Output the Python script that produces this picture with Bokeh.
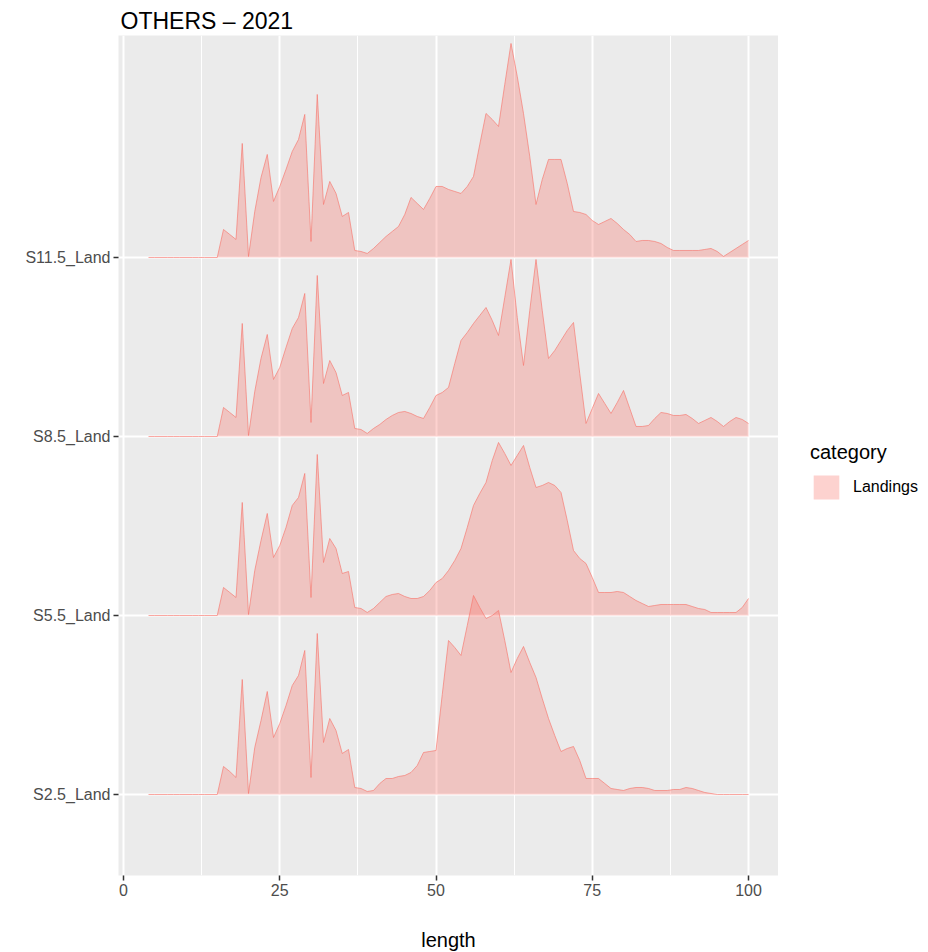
from bokeh.plotting import figure
from bokeh.layouts import row
from bokeh.models import FixedTicker, Legend, LegendItem, Range1d
from bokeh.embed import file_html
from bokeh.resources import INLINE

# ---------------- data ----------------
title_text = "OTHERS \u2013  2021"
categories = ["S2.5_Land", "S5.5_Land", "S8.5_Land", "S11.5_Land"]
series_name = "Landings"
legend_title = "category"

lengths = [4, 5, 6, 7, 8, 9, 10, 11, 12, 13, 14, 15, 16, 17, 18, 19, 20,
           21, 22, 23, 24, 25, 26, 27, 28, 29, 30, 31, 32, 33, 34, 35, 36,
           37, 38, 39, 40, 41, 42, 43, 44, 45, 46, 47, 48, 49, 50, 51, 52,
           53, 54, 55, 56, 57, 58, 59, 60, 61, 62, 63, 64, 65, 66, 67, 68,
           69, 70, 71, 72, 73, 74, 75, 76, 77, 78, 79, 80, 81, 82, 83, 84,
           85, 86, 87, 88, 89, 90, 91, 92, 93, 94, 95, 96, 97, 98, 99, 100]

# relative heights (1 category step = 179 units)
s2_5 = [0, 0, 0, 0, 0, 0, 0, 0, 0, 0, 0, 0, 28, 23, 17, 115, 1,
        47, 74, 103, 57, 71, 89, 109, 119, 144, 17, 161, 52, 76, 64, 41, 45,
        7, 6, 3, 4, 11, 16, 16, 18, 19, 22, 29, 42, 43, 44, 100, 154,
        147, 139, 169, 199, 187, 176, 179, 184, 154, 122, 136, 148, 132, 117, 96, 76,
        59, 43, 46, 48, 34, 16, 16, 16, 11, 6, 5, 4, 6, 7, 7, 6,
        4, 4, 4, 5, 5, 7, 6, 4, 2, 1, 0, 0, 0, 0, 0, 0]
s5_5 = [0, 0, 0, 0, 0, 0, 0, 0, 0, 0, 0, 0, 28, 23, 18, 113, 1,
        45, 75, 102, 58, 70, 88, 110, 118, 142, 18, 161, 53, 77, 67, 42, 44,
        8, 7, 3, 7, 13, 19, 21, 22, 19, 17, 17, 19, 25, 33, 37, 45,
        55, 67, 88, 110, 122, 133, 155, 173, 162, 150, 160, 170, 148, 128, 130, 133,
        130, 123, 95, 65, 57, 52, 38, 23, 23, 23, 24, 23, 19, 15, 12, 9,
        10, 11, 11, 11, 11, 11, 9, 7, 6, 3, 3, 3, 3, 3, 8, 17]
s8_5 = [0, 0, 0, 0, 0, 0, 0, 0, 0, 0, 0, 0, 29, 24, 19, 113, 1,
        45, 78, 102, 57, 69, 89, 108, 119, 143, 14, 161, 53, 76, 64, 41, 44,
        8, 7, 3, 8, 12, 17, 21, 24, 25, 23, 20, 18, 29, 41, 44, 49,
        73, 96, 104, 113, 121, 129, 116, 101, 139, 177, 119, 71, 126, 177, 126, 78,
        86, 96, 106, 114, 63, 13, 28, 43, 33, 23, 34, 46, 28, 10, 10, 11,
        18, 24, 23, 21, 21, 22, 18, 13, 16, 19, 15, 10, 15, 19, 17, 13]
s11_5 = [0, 0, 0, 0, 0, 0, 0, 0, 0, 0, 0, 0, 28, 23, 18, 114, 1,
         46, 80, 103, 56, 71, 88, 106, 118, 143, 16, 163, 53, 76, 64, 41, 45,
         7, 6, 4, 9, 15, 21, 26, 31, 43, 60, 54, 48, 59, 71, 71, 68,
         66, 64, 71, 81, 113, 144, 138, 131, 173, 214, 181, 144, 101, 53, 78, 98,
         98, 98, 74, 46, 45, 43, 37, 33, 36, 39, 34, 28, 23, 16, 17, 17,
         16, 14, 10, 7, 7, 7, 7, 7, 8, 9, 6, 1, 5, 9, 13, 17]

heights = {"S2.5_Land": s2_5, "S5.5_Land": s5_5, "S8.5_Land": s8_5, "S11.5_Land": s11_5}
height_per_step = 179.0

x_ticks = [0, 25, 50, 75, 100]
x_minor = [12.5, 37.5, 62.5, 87.5]

# ---------------- styles ----------------
FILL = "#F8766D"
FILL_ALPHA = 0.33
FONT = "Liberation Sans"

p = figure(frame_width=660, frame_height=840, output_backend="svg", toolbar_location=None,
           x_range=Range1d(-0.8, 104.8), y_range=Range1d(0.5475, 5.24),
           min_border_left=118, min_border_right=0, min_border_top=35,
           min_border_bottom=77)

p.title.text = title_text
p.title.text_font = FONT
p.title.text_font_size = "23px"
p.title.text_font_style = "normal"
p.title.text_color = "#000000"
p.title.offset = 2
p.title.standoff = 4

p.background_fill_color = "#EBEBEB"
p.border_fill_color = "#FFFFFF"
p.outline_line_color = None

# grids
p.xgrid.ticker = FixedTicker(ticks=x_ticks, minor_ticks=x_minor)
p.xgrid.grid_line_color = "#FFFFFF"
p.xgrid.grid_line_width = 2
p.xgrid.minor_grid_line_color = "#FFFFFF"
p.xgrid.minor_grid_line_width = 1
p.ygrid.ticker = FixedTicker(ticks=[1, 2, 3, 4])
p.ygrid.grid_line_color = "#FFFFFF"
p.ygrid.grid_line_width = 2

# axes
p.xaxis.ticker = FixedTicker(ticks=x_ticks, minor_ticks=x_minor)
p.yaxis.ticker = FixedTicker(ticks=[1, 2, 3, 4])
p.yaxis.major_label_overrides = {i + 1: c for i, c in enumerate(categories)}
for ax in (p.xaxis[0], p.yaxis[0]):
    ax.axis_line_color = None
    ax.minor_tick_line_color = None
    ax.major_tick_line_color = "#333333"
    ax.major_tick_line_width = 1.5
    ax.major_tick_out = 5
    ax.major_tick_in = 0
    ax.major_label_text_font = FONT
    ax.major_label_text_font_size = "16px"
    ax.major_label_text_color = "#4D4D4D"
    ax.major_label_standoff = 3
p.xaxis.axis_label = "length"
p.xaxis.axis_label_text_font = FONT
p.xaxis.axis_label_text_font_size = "20px"
p.xaxis.axis_label_text_font_style = "normal"
p.xaxis.axis_label_text_color = "#000000"
p.xaxis.axis_label_standoff = 30

# ridges: top row first so lower ridges overlay
for idx in range(len(categories) - 1, -1, -1):
    cat = categories[idx]
    base = idx + 1
    top = [base + h / height_per_step for h in heights[cat]]
    p.varea(x=lengths, y1=[base] * len(lengths), y2=top,
            fill_color=FILL, fill_alpha=FILL_ALPHA)
    p.line(x=lengths, y=top, line_color=FILL, line_alpha=0.65, line_width=1)

# ---------------- legend panel ----------------
lg = figure(width=150, height=952, output_backend="svg", toolbar_location=None,
            x_range=Range1d(-1000, -999), y_range=Range1d(-1000, -999),
            min_border=0, x_axis_type=None, y_axis_type=None)
lg.grid.visible = False
lg.outline_line_color = None
lg.background_fill_color = "#FFFFFF"
lg.border_fill_color = "#FFFFFF"
# same series, drawn outside this panel's visible range: only its legend key shows
key = lg.quad(left=[lengths[0]], right=[lengths[-1]], bottom=[0], top=[1],
              fill_color=FILL, fill_alpha=FILL_ALPHA, line_color=None)

legend = Legend(items=[LegendItem(label=series_name, renderers=[key])],
                title=legend_title, location=(32, 372))
legend.title_text_font = FONT
legend.title_text_font_size = "20px"
legend.title_text_font_style = "normal"
legend.title_text_color = "#000000"
legend.title_standoff = 8
legend.label_text_font = FONT
legend.label_text_font_size = "16px"
legend.label_text_color = "#000000"
legend.glyph_width = 32
legend.glyph_height = 30
legend.label_standoff = 11
legend.border_line_color = None
legend.background_fill_alpha = 0
legend.margin = 0
legend.padding = 10
lg.add_layout(legend)

layout = row(p, lg, spacing=0)
open("out.html", "w").write(file_html(layout, INLINE))
